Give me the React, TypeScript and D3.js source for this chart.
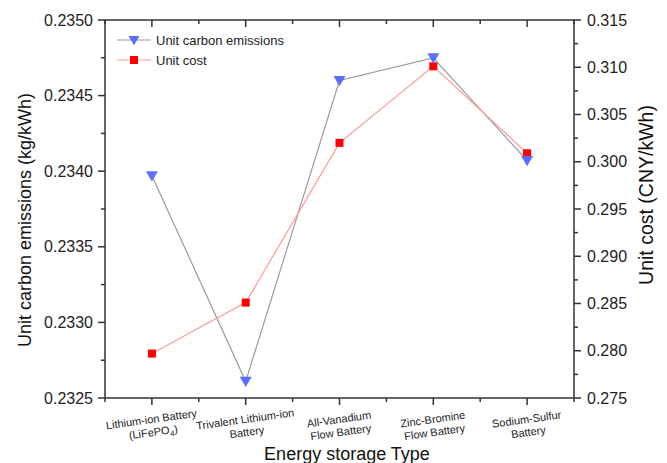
import React from "react";
import * as d3 from "d3";

const categories: string[][] = [
  ["Lithium-ion Battery", "(LiFePO4)"],
  ["Trivalent Lithium-ion", "Battery"],
  ["All-Vanadium", "Flow Battery"],
  ["Zinc-Bromine", "Flow Battery"],
  ["Sodium-Sulfur", "Battery"],
];
const carbonValues: number[] = [0.23397, 0.23261, 0.2346, 0.23475, 0.23407];
const costValues: number[] = [0.2797, 0.2851, 0.302, 0.3101, 0.3009];
const leftTicks: number[] = [0.2325, 0.233, 0.2335, 0.234, 0.2345, 0.235];
const rightTicks: number[] = [0.275, 0.28, 0.285, 0.29, 0.295, 0.3, 0.305, 0.31, 0.315];
const seriesNames: string[] = ["Unit carbon emissions", "Unit cost"];

const W = 667, H = 463;
const L = 105, R = 574, T = 20, B = 398;
const FONT = "'Liberation Sans', Arial, sans-serif";
const AX = "#333";

export default function App() {
  const idx = categories.map((_, i) => i);
  const x = d3.scalePoint<number>().domain(idx).range([L, R]).padding(0.5);
  const step = x.step();
  const yL = d3.scaleLinear().domain([0.2325, 0.235]).range([B, T]);
  const yR = d3.scaleLinear().domain([0.275, 0.315]).range([B, T]);

  const lineL = d3.line<number>().x((_, i) => x(i)!).y((d) => yL(d));
  const lineR = d3.line<number>().x((_, i) => x(i)!).y((d) => yR(d));

  const minorX: number[] = [];
  for (let i = 0; i <= categories.length; i++) minorX.push(L + i * step);

  const leftMinor = leftTicks.slice(0, -1).map((t) => t + 0.00025);
  const rightMinor = rightTicks.slice(0, -1).map((t) => t + 0.0025);

  const tri = (cx: number, cy: number, s = 6) =>
    `M${cx - s},${cy - s * 0.75}L${cx + s},${cy - s * 0.75}L${cx},${cy + s * 0.95}Z`;

  const fmtL = d3.format(".4f");
  const fmtR = d3.format(".3f");

  return (
    <svg
      width={W}
      height={H}
      style={{ position: "absolute", left: 0, top: 0, background: "#fff" }}
      fontFamily={FONT}
    >
      <rect x={0} y={0} width={W} height={H} fill="#fff" />
      {/* lines */}
      <path d={lineL(carbonValues)!} fill="none" stroke="#9a9a9a" strokeWidth={1.2} />
      <path d={lineR(costValues)!} fill="none" stroke="#ff9a9a" strokeWidth={1.2} />
      {costValues.map((v, i) => (
        <rect key={"c" + i} x={x(i)! - 4} y={yR(v) - 4} width={8} height={8} fill="#ff0000" />
      ))}
      {carbonValues.map((v, i) => (
        <path key={"t" + i} d={tri(x(i)!, yL(v))} fill="#5b6eff" />
      ))}

      {/* frame */}
      <rect x={L} y={T} width={R - L} height={B - T} fill="none" stroke={AX} strokeWidth={1.5} />

      {/* bottom ticks */}
      {idx.map((i) => (
        <line key={"bx" + i} x1={x(i)} x2={x(i)} y1={B} y2={B + 7} stroke={AX} strokeWidth={1.5} />
      ))}
      {minorX.map((mx, i) => (
        <line key={"bm" + i} x1={mx} x2={mx} y1={B} y2={B + 4} stroke={AX} strokeWidth={1.5} />
      ))}
      {/* top ticks */}
      {idx.map((i) => (
        <line key={"tx" + i} x1={x(i)} x2={x(i)} y1={T} y2={T + 7} stroke={AX} strokeWidth={1.5} />
      ))}
      {minorX.map((mx, i) => (
        <line key={"tm" + i} x1={mx} x2={mx} y1={T} y2={T + 4} stroke={AX} strokeWidth={1.5} />
      ))}

      {/* left axis */}
      {leftTicks.map((t) => (
        <g key={"l" + t}>
          <line x1={L - 7} x2={L} y1={yL(t)} y2={yL(t)} stroke={AX} strokeWidth={1.5} />
          <text x={L - 12} y={yL(t)} dy="0.35em" textAnchor="end" fontSize={16} fill="#222">
            {fmtL(t)}
          </text>
        </g>
      ))}
      {leftMinor.map((t) => (
        <line key={"lm" + t} x1={L - 4} x2={L} y1={yL(t)} y2={yL(t)} stroke={AX} strokeWidth={1.5} />
      ))}

      {/* right axis */}
      {rightTicks.map((t) => (
        <g key={"r" + t}>
          <line x1={R} x2={R + 7} y1={yR(t)} y2={yR(t)} stroke={AX} strokeWidth={1.5} />
          <text x={R + 13} y={yR(t)} dy="0.35em" textAnchor="start" fontSize={16} fill="#222">
            {fmtR(t)}
          </text>
        </g>
      ))}
      {rightMinor.map((t) => (
        <line key={"rm" + t} x1={R} x2={R + 4} y1={yR(t)} y2={yR(t)} stroke={AX} strokeWidth={1.5} />
      ))}

      {/* x tick labels */}
      {categories.map((lines, i) => (
        <g key={"xl" + i} transform={`translate(${x(i)},${B + 25}) rotate(-8)`}>
          {lines.map((ln, j) => (
            <text key={j} x={0} y={j * 13} textAnchor="middle" fontSize={11} fill="#222">
              {ln === "(LiFePO4)" ? (
                <>
                  (LiFePO
                  <tspan fontSize={8} dy={3}>4</tspan>
                  <tspan dy={-3}>)</tspan>
                </>
              ) : (
                ln
              )}
            </text>
          ))}
        </g>
      ))}

      {/* axis titles */}
      <text x={347} y={460} textAnchor="middle" fontSize={18} fill="#111">
        Energy storage Type
      </text>
      <text
        transform={`translate(31,220) rotate(-90)`}
        textAnchor="middle"
        fontSize={18}
        fill="#111"
      >
        Unit carbon emissions (kg/kWh)
      </text>
      <text
        transform={`translate(653,195) rotate(-90)`}
        textAnchor="middle"
        fontSize={19.5}
        fill="#111"
      >
        Unit cost (CNY/kWh)
      </text>

      {/* legend */}
      <g>
        <line x1={117} x2={151} y1={40} y2={40} stroke="#9a9a9a" strokeWidth={1.2} />
        <path d={tri(134, 40, 5.5)} fill="#5b6eff" />
        <text x={156} y={40} dy="0.35em" fontSize={13} fill="#222">
          {seriesNames[0]}
        </text>
        <line x1={117} x2={151} y1={60} y2={60} stroke="#ff9a9a" strokeWidth={1.2} />
        <rect x={130} y={56} width={8} height={8} fill="#ff0000" />
        <text x={156} y={60} dy="0.35em" fontSize={13} fill="#222">
          {seriesNames[1]}
        </text>
      </g>
    </svg>
  );
}
